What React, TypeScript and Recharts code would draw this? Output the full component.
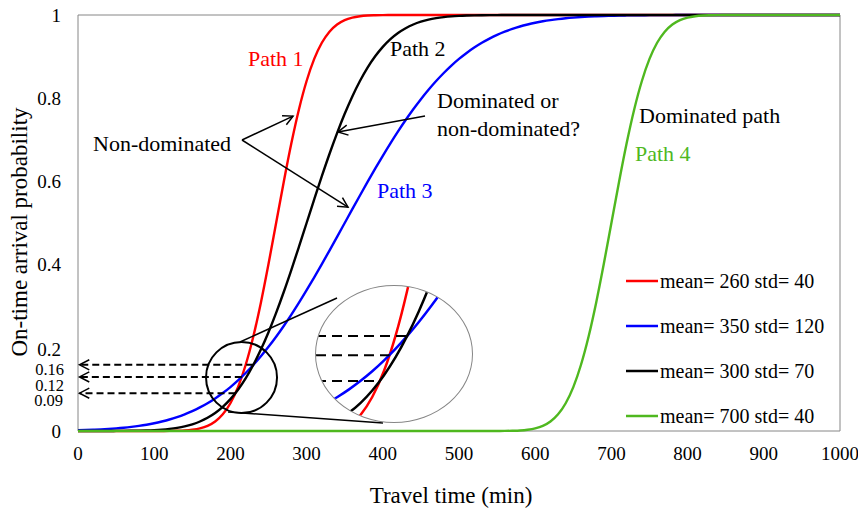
import React from 'react';
import { LineChart, Line, XAxis, YAxis, ReferenceLine, ReferenceDot, ReferenceArea } from 'recharts';

const FONT = '"Liberation Serif", "Times New Roman", serif';
const RED = '#ff0000';
const BLUE = '#0000ff';
const BLACK = '#000000';
const GREEN = '#4fb81f';
const FRAME = '#868686';

// Travel time (min)
const times = [
  0, 10, 20, 30, 40, 50, 60, 70, 80, 90,
  100, 110, 120, 130, 140, 150, 160, 170, 180, 190,
  200, 210, 220, 230, 240, 250, 260, 270, 280, 290,
  300, 310, 320, 330, 340, 350, 360, 370, 380, 390,
  400, 410, 420, 430, 440, 450, 460, 470, 480, 490,
  500, 510, 520, 530, 540, 550, 560, 570, 580, 590,
  600, 610, 620, 630, 640, 650, 660, 670, 680, 690,
  700, 710, 720, 730, 740, 750, 760, 770, 780, 790,
  800, 810, 820, 830, 840, 850, 860, 870, 880, 890,
  900, 910, 920, 930, 940, 950, 960, 970, 980, 990,
  1000,
];

// Path 1 (red): mean 260, std 40
const path1 = [
  0, 0, 0, 0, 0, 0, 0, 0, 0, 0,
  0, 0.0001, 0.0002, 0.0006, 0.0013, 0.003, 0.0062, 0.0122, 0.0228, 0.0401,
  0.0668, 0.1056, 0.1587, 0.2266, 0.3085, 0.4013, 0.5, 0.5987, 0.6915, 0.7734,
  0.8413, 0.8944, 0.9332, 0.9599, 0.9772, 0.9878, 0.9938, 0.997, 0.9987, 0.9994,
  0.9998, 0.9999, 1, 1, 1, 1, 1, 1, 1, 1,
  1, 1, 1, 1, 1, 1, 1, 1, 1, 1,
  1, 1, 1, 1, 1, 1, 1, 1, 1, 1,
  1, 1, 1, 1, 1, 1, 1, 1, 1, 1,
  1, 1, 1, 1, 1, 1, 1, 1, 1, 1,
  1, 1, 1, 1, 1, 1, 1, 1, 1, 1,
  1,
];

// Path 2 (black): mean 300, std 70
const path2 = [
  0, 0, 0, 0.0001, 0.0001, 0.0002, 0.0003, 0.0005, 0.0008, 0.0013,
  0.0021, 0.0033, 0.0051, 0.0076, 0.0111, 0.0161, 0.0228, 0.0317, 0.0432, 0.058,
  0.0766, 0.0993, 0.1265, 0.1587, 0.1957, 0.2375, 0.2839, 0.3341, 0.3875, 0.4432,
  0.5, 0.5568, 0.6125, 0.6659, 0.7161, 0.7625, 0.8043, 0.8413, 0.8735, 0.9007,
  0.9234, 0.942, 0.9568, 0.9683, 0.9772, 0.9839, 0.9889, 0.9924, 0.9949, 0.9967,
  0.9979, 0.9987, 0.9992, 0.9995, 0.9997, 0.9998, 0.9999, 1, 1, 1,
  1, 1, 1, 1, 1, 1, 1, 1, 1, 1,
  1, 1, 1, 1, 1, 1, 1, 1, 1, 1,
  1, 1, 1, 1, 1, 1, 1, 1, 1, 1,
  1, 1, 1, 1, 1, 1, 1, 1, 1, 1,
  1,
];

// Path 3 (blue): mean 350, std 120
const path3 = [
  0.0018, 0.0023, 0.003, 0.0038, 0.0049, 0.0062, 0.0078, 0.0098, 0.0122, 0.0151,
  0.0186, 0.0228, 0.0276, 0.0334, 0.0401, 0.0478, 0.0567, 0.0668, 0.0783, 0.0912,
  0.1056, 0.1217, 0.1394, 0.1587, 0.1797, 0.2023, 0.2266, 0.2525, 0.2798, 0.3085,
  0.3385, 0.3694, 0.4013, 0.4338, 0.4668, 0.5, 0.5332, 0.5662, 0.5987, 0.6306,
  0.6615, 0.6915, 0.7202, 0.7475, 0.7734, 0.7977, 0.8203, 0.8413, 0.8606, 0.8783,
  0.8944, 0.9088, 0.9217, 0.9332, 0.9433, 0.9522, 0.9599, 0.9666, 0.9724, 0.9772,
  0.9814, 0.9849, 0.9878, 0.9902, 0.9922, 0.9938, 0.9951, 0.9962, 0.997, 0.9977,
  0.9982, 0.9987, 0.999, 0.9992, 0.9994, 0.9996, 0.9997, 0.9998, 0.9998, 0.9999,
  0.9999, 1, 1, 1, 1, 1, 1, 1, 1, 1,
  1, 1, 1, 1, 1, 1, 1, 1, 1, 1,
  1,
];

// Path 4 (green): mean 700, std 40
const path4 = [
  0, 0, 0, 0, 0, 0, 0, 0, 0, 0,
  0, 0, 0, 0, 0, 0, 0, 0, 0, 0,
  0, 0, 0, 0, 0, 0, 0, 0, 0, 0,
  0, 0, 0, 0, 0, 0, 0, 0, 0, 0,
  0, 0, 0, 0, 0, 0, 0, 0, 0, 0,
  0, 0, 0, 0, 0, 0.0001, 0.0002, 0.0006, 0.0013, 0.003,
  0.0062, 0.0122, 0.0228, 0.0401, 0.0668, 0.1056, 0.1587, 0.2266, 0.3085, 0.4013,
  0.5, 0.5987, 0.6915, 0.7734, 0.8413, 0.8944, 0.9332, 0.9599, 0.9772, 0.9878,
  0.9938, 0.997, 0.9987, 0.9994, 0.9998, 0.9999, 1, 1, 1, 1,
  1, 1, 1, 1, 1, 1, 1, 1, 1, 1,
  1,
];

const xTicks = [0, 100, 200, 300, 400, 500, 600, 700, 800, 900, 1000];
const yTicks = [0, 0.09, 0.12, 0.16, 0.2, 0.4, 0.6, 0.8, 1];
const yTickShift: Record<string, number> = { '0.09': 6.5, '0.12': 4, '0.16': 4.5, '0.2': 1.5 };
const yTickNudgeX: Record<string, number> = { '0.09': 2, '0.12': 3, '0.16': 3 };
const smallTicks = ['0.09', '0.12', '0.16'];

// intersection points of the curves (time, probability)
const crossings = [
  { t: 230, p: 0.159 },
  { t: 215, p: 0.13 },
  { t: 206.7, p: 0.091 },
];

const legendItems = [
  { label: 'mean= 260 std= 40', color: RED },
  { label: 'mean= 350 std= 120', color: BLUE },
  { label: 'mean= 300 std= 70', color: BLACK },
  { label: 'mean= 700 std= 40', color: GREEN },
];

const data = times.map((t, i) => ({ t, p1: path1[i], p2: path2[i], p3: path3[i], p4: path4[i] }));

const arrowShape = (dashed: boolean, dash = '7 4') => (props: any) => {
  const { x1, y1, x2, y2 } = props;
  const ang = Math.atan2(y2 - y1, x2 - x1);
  const L = 11;
  const a = 0.48;
  const ax1 = x2 - L * Math.cos(ang - a);
  const ay1 = y2 - L * Math.sin(ang - a);
  const ax2 = x2 - L * Math.cos(ang + a);
  const ay2 = y2 - L * Math.sin(ang + a);
  return (
    <g>
      <line x1={x1} y1={y1} x2={x2} y2={y2} stroke={BLACK} strokeWidth={dashed ? 2 : 1.5}
        strokeDasharray={dashed ? dash : undefined} />
      <polyline points={`${ax1},${ay1} ${x2},${y2} ${ax2},${ay2}`} fill="none" stroke={BLACK} strokeWidth={1.5} />
    </g>
  );
};

const YTick = (props: any) => {
  const { x, y, payload } = props;
  const label = String(payload.value);
  const small = smallTicks.includes(label);
  return (
    <text x={x + (yTickNudgeX[label] || 0)} y={y + (yTickShift[label] || 0)} dy="0.35em" textAnchor="end"
      fontFamily={FONT} fontSize={small ? 16.5 : 19} fill="#000">{label}</text>
  );
};

const XTick = (props: any) => {
  const { x, y, payload } = props;
  return (
    <text x={x} y={y} dy="0.35em" textAnchor="middle" fontFamily={FONT} fontSize={19} fill="#000">
      {String(payload.value)}
    </text>
  );
};

const texts = [
  { s: 'Path 1', x: 248, y: 58, c: RED },
  { s: 'Path 2', x: 390, y: 48, c: BLACK },
  { s: 'Path 3', x: 377, y: 190, c: BLUE },
  { s: 'Non-dominated', x: 93, y: 143, c: BLACK },
  { s: 'Dominated or', x: 437, y: 100, c: BLACK },
  { s: 'non-dominated?', x: 437, y: 128, c: BLACK },
  { s: 'Dominated path', x: 639, y: 115, c: BLACK },
  { s: 'Path 4', x: 635, y: 153, c: GREEN },
];

export default function App() {
  return (
    <div style={{ position: 'absolute', left: 0, top: 0, width: 858, height: 508, background: '#fff' }}>
      <LineChart width={858} height={508} data={data} margin={{ top: 15, right: 18, left: 0, bottom: 0 }}>
        <XAxis dataKey="t" type="number" domain={[0, 1000]} ticks={xTicks} axisLine={false} tickLine={false}
          tickSize={6} tickMargin={16} height={77} tick={<XTick />} interval={0} />
        <YAxis type="number" domain={[0, 1]} ticks={yTicks} axisLine={false} tickLine={false}
          tickSize={6} tickMargin={11} width={78} tick={<YTick />} interval={0} />
        <ReferenceArea x1={0} x2={1000} y1={0} y2={1} fill="none" stroke={FRAME} strokeWidth={1} fillOpacity={0} />
        <Line type="monotone" dataKey="p1" stroke={RED} strokeWidth={2.4} dot={false} isAnimationActive={false} />
        <Line type="monotone" dataKey="p3" stroke={BLUE} strokeWidth={2.4} dot={false} isAnimationActive={false} />
        <Line type="monotone" dataKey="p2" stroke={BLACK} strokeWidth={2.4} dot={false} isAnimationActive={false} />
        <Line type="monotone" dataKey="p4" stroke={GREEN} strokeWidth={2.4} dot={false} isAnimationActive={false} />
        {crossings.map((c, i) => (
          <ReferenceLine key={`d${i}`} segment={[{ x: c.t, y: c.p }, { x: 2, y: c.p }]} shape={arrowShape(true)} />
        ))}
        <ReferenceLine segment={[{ x: 215.2, y: 0.6995 }, { x: 282.2, y: 0.757 }]} shape={arrowShape(false)} />
        <ReferenceLine segment={[{ x: 215.2, y: 0.6995 }, { x: 354.3, y: 0.538 }]} shape={arrowShape(false)} />
        <ReferenceLine segment={[{ x: 455.4, y: 0.757 }, { x: 341.2, y: 0.719 }]} shape={arrowShape(false)} />
        <ReferenceLine segment={[{ x: 212.6, y: 0.214 }, { x: 339.9, y: 0.3197 }]} stroke={BLACK} strokeWidth={1.5} />
        <ReferenceLine segment={[{ x: 196.9, y: 0.0457 }, { x: 400.3, y: 0.0192 }]} stroke={BLACK} strokeWidth={1.5} />
        <ReferenceDot x={214.6} y={0.1286} r={35.5} fill="none" stroke={BLACK} strokeWidth={2} />
      </LineChart>

      <div style={{
        position: 'absolute', left: 315, top: 285, width: 158, height: 138, borderRadius: '50%',
        border: `1px solid ${FRAME}`, overflow: 'hidden', background: '#fff', boxSizing: 'border-box',
      }}>
        <LineChart width={156} height={136} data={data} margin={{ top: 0, right: 0, left: 0, bottom: 0 }}>
          <XAxis dataKey="t" type="number" domain={[151.5, 286]} allowDataOverflow hide />
          <YAxis type="number" domain={[0.029, 0.2345]} allowDataOverflow hide />
          <Line type="monotone" dataKey="p1" stroke={RED} strokeWidth={2.5} dot={false} isAnimationActive={false} />
          <Line type="monotone" dataKey="p3" stroke={BLUE} strokeWidth={2.5} dot={false} isAnimationActive={false} />
          <Line type="monotone" dataKey="p2" stroke={BLACK} strokeWidth={2.5} dot={false} isAnimationActive={false} />
          {crossings.map((c, i) => (
            <ReferenceLine key={`m${i}`} segment={[{ x: 151.5, y: c.p }, { x: c.t, y: c.p }]}
              stroke={BLACK} strokeWidth={2} strokeDasharray="10 6" />
          ))}
        </LineChart>
      </div>

      <svg width={858} height={508} style={{ position: 'absolute', left: 0, top: 0, pointerEvents: 'none' }}>
        {texts.map((t, i) => (
          <text key={i} x={t.x} y={t.y} dy="0.35em" fill={t.c} fontFamily={FONT} fontSize={22}>{t.s}</text>
        ))}
        {legendItems.map((it, i) => (
          <g key={`l${i}`}>
            <line x1={626} x2={658} y1={281 + i * 45} y2={281 + i * 45} stroke={it.color} strokeWidth={2.5} />
            <text x={660} y={281 + i * 45} dy="0.35em" fontFamily={FONT} fontSize={20} fill="#000">{it.label}</text>
          </g>
        ))}
        <text x={451} y={495} dy="0.35em" textAnchor="middle" fontFamily={FONT} fontSize={23} fill="#000">
          Travel time (min)
        </text>
        <text x={19} y={232} dy="0.35em" textAnchor="middle" fontFamily={FONT} fontSize={23} fill="#000"
          transform="rotate(-90 19 232)">
          On-time arrival probability
        </text>
      </svg>
    </div>
  );
}
